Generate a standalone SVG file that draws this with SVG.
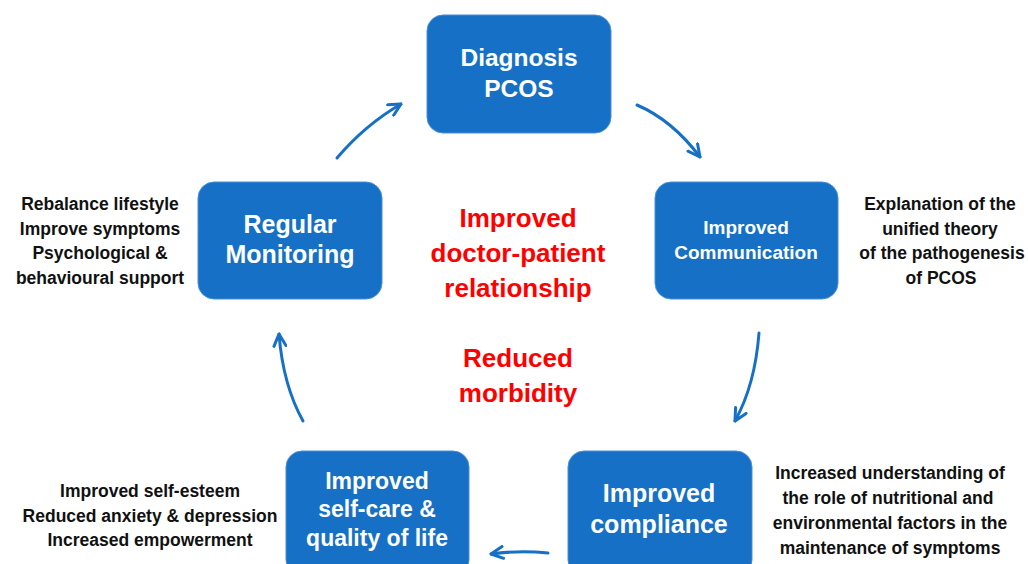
<svg xmlns="http://www.w3.org/2000/svg" width="1028" height="564" viewBox="0 0 1028 564">
<style>
.box{fill:#1570c6;stroke:#4a8fd6;stroke-width:1}
.bt{font-family:"Liberation Sans",Arial,sans-serif;font-weight:bold;fill:#fff;text-anchor:middle}
.red{font-family:"Liberation Sans",Arial,sans-serif;font-weight:bold;fill:#ff0000;text-anchor:middle;font-size:26px}
.side{font-family:"Liberation Sans",Arial,sans-serif;font-weight:bold;fill:#111;text-anchor:middle;font-size:17.5px}
.arr{fill:none;stroke:#1570c6;stroke-width:3;stroke-linecap:round;marker-end:url(#ah)}
</style>
<defs>
<marker id="ah" viewBox="0 0 10 10" refX="9" refY="5" markerWidth="5" markerHeight="5" orient="auto" markerUnits="strokeWidth">
<path d="M1,1 L9,5 L1,9" fill="none" stroke="#1570c6" stroke-width="2" stroke-linecap="round" stroke-linejoin="round"/>
</marker>
</defs>
<g id="connectors">
<path class="arr" d="M637,105 Q672,120 700,157"/>
<path class="arr" d="M759,333 Q755,385 735,421"/>
<path class="arr" d="M548,553 Q520,550 491,554"/>
<path class="arr" d="M303,421 Q283,385 279,334"/>
<path class="arr" d="M337,158 Q365,125 401,104"/>
</g>
<g id="diagnosis">
<rect class="box" x="427" y="15" width="184" height="118" rx="16"/>
<text class="bt" x="519" y="66" font-size="24.5">Diagnosis</text>
<text class="bt" x="519" y="97" font-size="24.5">PCOS</text>
</g>
<g id="communication">
<rect class="box" x="655" y="182" width="183" height="117" rx="16"/>
<text class="bt" x="746" y="234" font-size="19">Improved</text>
<text class="bt" x="746" y="259" font-size="19">Communication</text>
</g>
<g id="compliance">
<rect class="box" x="568" y="451" width="184" height="125" rx="16"/>
<text class="bt" x="659" y="502" font-size="25">Improved</text>
<text class="bt" x="659" y="533" font-size="25">compliance</text>
</g>
<g id="selfcare">
<rect class="box" x="286" y="451" width="183" height="125" rx="16"/>
<text class="bt" x="377" y="489" font-size="23">Improved</text>
<text class="bt" x="377" y="517" font-size="23">self-care &amp;</text>
<text class="bt" x="377" y="546" font-size="23">quality of life</text>
</g>
<g id="monitoring">
<rect class="box" x="198" y="182" width="184" height="117" rx="16"/>
<text class="bt" x="290" y="233" font-size="25">Regular</text>
<text class="bt" x="290" y="263" font-size="25">Monitoring</text>
</g>
<g id="center">
<text class="red" x="518" y="227">Improved</text>
<text class="red" x="518" y="262">doctor-patient</text>
<text class="red" x="518" y="297">relationship</text>
<text class="red" x="518" y="367">Reduced</text>
<text class="red" x="518" y="402">morbidity</text>
</g>
<g id="note-communication">
<text class="side" x="940" y="210">Explanation of the</text>
<text class="side" x="940" y="235">unified theory</text>
<text class="side" x="942" y="259">of the pathogenesis</text>
<text class="side" x="941" y="284">of PCOS</text>
</g>
<g id="note-compliance">
<text class="side" x="890" y="479">Increased understanding of</text>
<text class="side" x="888" y="504">the role of nutritional and</text>
<text class="side" x="890" y="529">environmental factors in the</text>
<text class="side" x="890" y="554">maintenance of symptoms</text>
</g>
<g id="note-selfcare">
<text class="side" x="150" y="497">Improved self-esteem</text>
<text class="side" x="150" y="522">Reduced anxiety &amp; depression</text>
<text class="side" x="150" y="546">Increased empowerment</text>
</g>
<g id="note-monitoring">
<text class="side" x="100" y="210">Rebalance lifestyle</text>
<text class="side" x="100" y="235">Improve symptoms</text>
<text class="side" x="100" y="259">Psychological &amp;</text>
<text class="side" x="100" y="284">behavioural support</text>
</g>
</svg>
